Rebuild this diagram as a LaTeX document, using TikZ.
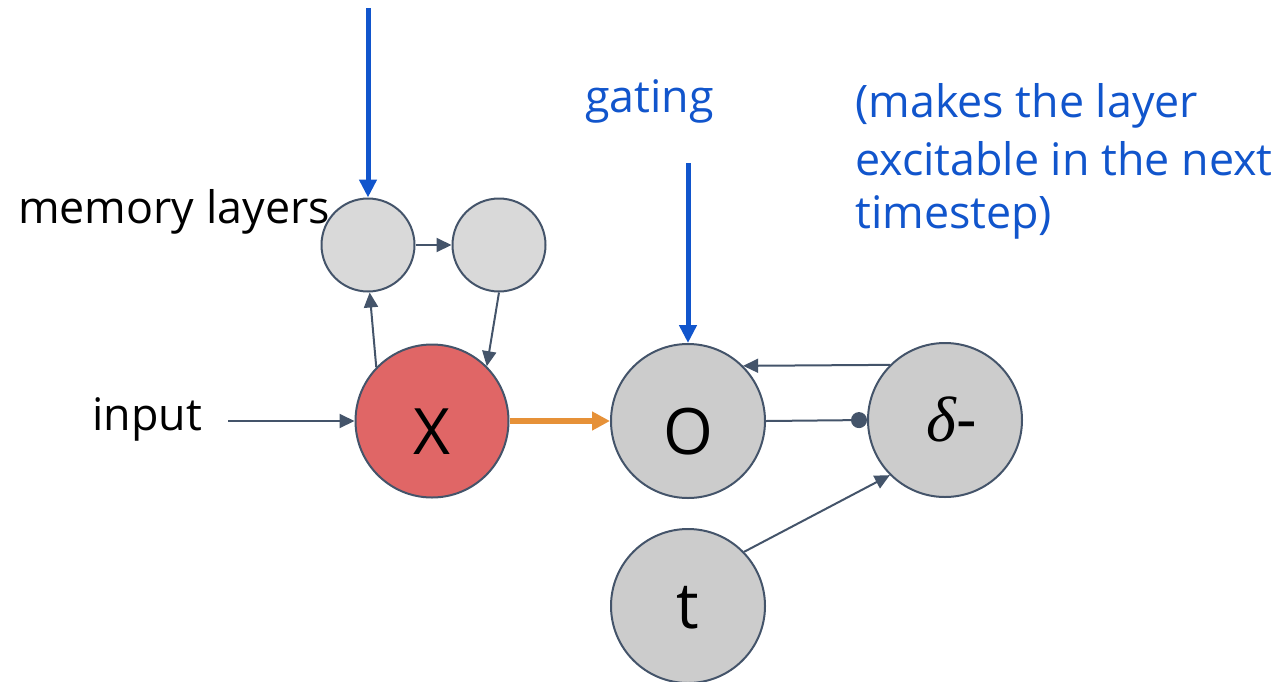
\documentclass[tikz,border=0pt]{standalone}
\usepackage{fontspec}
\setmainfont{Open Sans}
\newfontfamily\greekfont{Liberation Serif}
\usetikzlibrary{arrows.meta}
\definecolor{edgeslate}{HTML}{44546A}
\definecolor{cellgray}{HTML}{CCCCCC}
\definecolor{memgray}{HTML}{D9D9D9}
\definecolor{cellred}{HTML}{E06666}
\definecolor{gateblue}{HTML}{1155CC}
\definecolor{flowange}{HTML}{E69138}
% set a letter with its baseline a given distance below the node centre
\newcommand{\sunk}[2]{\raisebox{-#1}[0pt][0pt]{#2}}
\tikzset{
  cell/.style={circle, draw=edgeslate, line width=2pt, fill=cellgray, inner sep=0pt,
    minimum size=154pt, font=\fontsize{64}{70}\selectfont},
  memcell/.style={circle, draw=edgeslate, line width=2pt, fill=memgray, inner sep=0pt,
    minimum size=93pt},
  link/.style={draw=edgeslate, line width=2pt, -{Triangle[length=15pt,width=14pt]}},
  gatearrow/.style={draw=gateblue, line width=5pt, -{Triangle[length=18pt,width=17pt]}},
  flowarrow/.style={draw=flowange, line width=6pt, -{Triangle[length=18pt,width=18pt]}},
  label/.style={inner sep=0pt, font=\fontsize{44.8}{56}\selectfont},
  bluelabel/.style={label, text=gateblue}
}
\begin{document}
\begin{tikzpicture}[x=1pt, y=-1pt]
  \useasboundingbox (0,0) rectangle (1286,681);

  % nodes of the network
  \node[memcell] (m1) at (368,245) {};
  \node[memcell] (m2) at (499,245) {};
  \node[cell, fill=cellred, minimum size=153pt] (x) at (432,421) {\sunk{33pt}{X}};
  \node[cell] (o) at (688,421) {\sunk{33pt}{O}};
  \node[cell] (d) at (945,420) {\hspace*{14pt}\sunk{21pt}{{\greekfont\itshape δ}-}};
  \node[cell] (t) at (688,606) {\sunk{22pt}{t}};

  % free ends of the incoming arrows
  \coordinate (memin) at (368,8);
  \coordinate (gatein) at (688,163);
  \coordinate (inputin) at (228,421);

  % labels
  \node[label, anchor=base west] (memlbl) at (18,223) {memory layers};
  \node[label, anchor=base west] (inplbl) at (92,430) {input};
  \node[bluelabel, anchor=base west] (gatelbl) at (585,112) {gating};
  \node[bluelabel, anchor=base west] (note1) at (855,117) {(makes the layer};
  \node[bluelabel, anchor=base west] (note2) at (855,175) {excitable in the next};
  \node[bluelabel, anchor=base west] (note3) at (855,228) {timestep)};

  % connectors
  \draw[gatearrow] (memin) -- (m1.north);
  \draw[gatearrow] (gatein) -- (o.north);
  \draw[link] (m1.east) -- (m2.west);
  \draw[link] (x.136) -- (m1.272);
  \draw[link] (m2.270) -- (x.45);
  \draw[link] (inputin) -- (x.west);
  \draw[flowarrow] (x.east) -- (o.west);
  \draw[link] (d.135) -- (o.45);
  \draw[draw=edgeslate, line width=2pt, -{Circle[length=16pt]}] (o.east) -- (d.west);
  \draw[link] (t.44) -- (d.225);
\end{tikzpicture}
\end{document}
